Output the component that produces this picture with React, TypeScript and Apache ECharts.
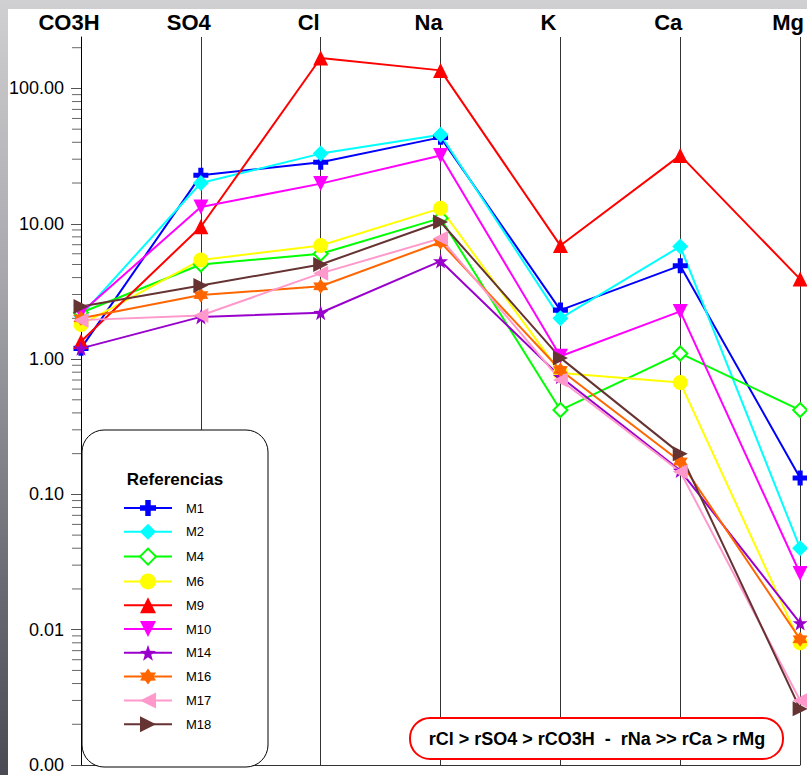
import React, { useEffect, useRef } from "react";
import * as echarts from "echarts";

const categories = ["CO3H", "SO4", "Cl", "Na", "K", "Ca", "Mg"];
const M1 = [1.2, 22.8, 28.5, 43.5, 2.3, 4.9, 0.132];
const M2 = [2.1, 20.0, 33.0, 45.5, 2.0, 6.8, 0.04];
const M4 = [2.2, 5.0, 6.0, 11.0, 0.42, 1.1, 0.42];
const M6 = [1.8, 5.4, 6.9, 13.0, 0.79, 0.67, 0.008];
const M9 = [1.35, 9.5, 168, 136, 6.9, 32, 3.9];
const M10 = [2.2, 13.3, 19.8, 32, 1.05, 2.25, 0.026];
const M14 = [1.2, 2.05, 2.2, 5.3, 0.74, 0.15, 0.0112];
const M16 = [2.0, 2.97, 3.45, 7.3, 0.83, 0.175, 0.0085];
const M17 = [1.94, 2.1, 4.3, 7.8, 0.7, 0.147, 0.003];
const M18 = [2.45, 3.5, 5.0, 10.3, 1.02, 0.2, 0.0026];

const legendTitle = "Referencias";
const annotation = "rCl > rSO4 > rCO3H  -  rNa >> rCa > rMg";
const yMin = 0.001;
const yMax = 240;

const PLUS = "path://M3.3,0H6.7V3.3H10V6.7H6.7V10H3.3V6.7H0V3.3H3.3Z";
const DOWN = "path://M0,0L10,0L5,10Z";
const LEFT = "path://M0,5L10,0L10,10Z";
const RIGHT = "path://M0,0L10,5L0,10Z";
const STAR5 = "path://M5,0L6.18,3.38L9.76,3.45L6.9,5.62L7.94,9.05L5,7L2.06,9.05L3.1,5.62L0.24,3.45L3.82,3.38Z";
const STAR6 = "path://M5,0L6.5,2.4L9.33,2.5L8,5L9.33,7.5L6.5,7.6L5,10L3.5,7.6L0.67,7.5L2,5L0.67,2.5L3.5,2.4Z";

const seriesDefs = [
  { name: "M1", data: M1, color: "#0000ff", symbol: PLUS, size: 15 },
  { name: "M2", data: M2, color: "#00ffff", symbol: "diamond", size: 16 },
  { name: "M4", data: M4, color: "#00ff00", symbol: "emptyDiamond", size: 14 },
  { name: "M6", data: M6, color: "#ffff00", symbol: "circle", size: 15 },
  { name: "M9", data: M9, color: "#ff0000", symbol: "triangle", size: 15 },
  { name: "M10", data: M10, color: "#ff00ff", symbol: DOWN, size: 15 },
  { name: "M14", data: M14, color: "#9900cc", symbol: STAR5, size: 15 },
  { name: "M16", data: M16, color: "#ff6600", symbol: STAR6, size: 15 },
  { name: "M17", data: M17, color: "#ff99cc", symbol: LEFT, size: 15 },
  { name: "M18", data: M18, color: "#663333", symbol: RIGHT, size: 15 },
];

const FONT = "'Liberation Sans', Arial, sans-serif";

export default function App() {
  const ref = useRef<HTMLDivElement>(null);
  useEffect(() => {
    if (!ref.current) return;
    const chart = echarts.init(ref.current, undefined, { renderer: "svg" });
    const baseGraphics: any[] = [
      {
        id: "legendBox",
        type: "rect",
        z: 5,
        shape: { x: 82, y: 430, width: 186, height: 337, r: 22 },
        style: { fill: "#fff", stroke: "#000", lineWidth: 1 },
      },
      {
        id: "legendTitle",
        type: "text",
        z: 6,
        x: 175,
        y: 479,
        style: {
          text: legendTitle,
          fill: "#000",
          font: `bold 17px ${FONT}`,
          textAlign: "center",
          textVerticalAlign: "middle",
        },
      },
      {
        id: "annBox",
        type: "rect",
        z: 5,
        shape: { x: 410, y: 718, width: 373, height: 41, r: 20 },
        style: { fill: "#fff", stroke: "#ff0000", lineWidth: 2 },
      },
      {
        id: "annText",
        type: "text",
        z: 6,
        x: 597,
        y: 739,
        style: {
          text: annotation,
          fill: "#000",
          font: `bold 18px ${FONT}`,
          textAlign: "center",
          textVerticalAlign: "middle",
        },
      },
    ];
    const option: any = {
      animation: false,
      backgroundColor: "transparent",
      textStyle: { fontFamily: FONT },
      grid: { left: 81, right: 6, top: 37, bottom: 10, containLabel: false },
      xAxis: [
        {
          type: "category",
          data: categories,
          boundaryGap: false,
          position: "top",
          axisLine: { show: false },
          axisTick: { show: false },
          axisLabel: {
            show: true,
            margin: 4,
            fontSize: 22,
            fontWeight: "bold",
            color: "#000",
            fontFamily: FONT,
            padding: [0, 24, 0, 0],
          },
          splitLine: { show: true, lineStyle: { color: "#333", width: 1 } },
        },
        {
          type: "category",
          data: categories,
          boundaryGap: false,
          position: "bottom",
          axisLine: { show: true, lineStyle: { color: "#333", width: 1 } },
          axisTick: { show: false },
          axisLabel: { show: false },
          splitLine: { show: false },
        },
      ],
      yAxis: {
        type: "log",
        logBase: 10,
        min: yMin,
        max: yMax,
        axisLine: { show: true, lineStyle: { color: "#000", width: 1 } },
        axisTick: { show: true, length: 10, lineStyle: { color: "#555" } },
        minorTick: { show: false },
        splitLine: { show: false },
        axisLabel: {
          margin: 17,
          fontSize: 18,
          color: "#000",
          fontFamily: FONT,
          showMaxLabel: false,
          formatter: (v: number) => (v > 150 ? "" : Number(v).toFixed(2)),
        },
      },
      legend: {
        orient: "vertical",
        left: 123,
        top: 500,
        z: 10,
        padding: 0,
        itemWidth: 48,
        itemHeight: 20,
        itemGap: 7.8,
        data: seriesDefs.map((s) => s.name),
        textStyle: { fontSize: 13, color: "#000", fontFamily: FONT, padding: [0, 0, 0, 9] },
      },
      series: seriesDefs.map((s) => ({
        name: s.name,
        type: "line",
        xAxisIndex: 0,
        data: s.data,
        symbol: s.symbol,
        symbolSize: s.size,
        showAllSymbol: true,
        lineStyle: { color: s.color, width: 2 },
        itemStyle:
          s.symbol === "emptyDiamond"
            ? { color: s.color, borderColor: s.color, borderWidth: 1.5 }
            : { color: s.color },
        emphasis: { disabled: true },
      })),
      graphic: baseGraphics,
    };
    chart.setOption(option);

    const minor: any[] = [];
    for (let k = -3; k <= 2; k++) {
      for (let d = 2; d <= 9; d++) {
        const v = d * Math.pow(10, k);
        if (v >= yMax) continue;
        const py = chart.convertToPixel({ yAxisIndex: 0 }, v) as unknown as number;
        if (typeof py !== "number" || isNaN(py)) continue;
        minor.push({
          id: `mt_${k}_${d}`,
          type: "line",
          z: 1,
          shape: { x1: 72, y1: py, x2: 81, y2: py },
          style: { stroke: "#666", lineWidth: 1 },
        });
      }
    }
    chart.setOption({ ...option, graphic: [...baseGraphics, ...minor] }, true);
    return () => chart.dispose();
  }, []);

  return (
    <div
      style={{
        position: "absolute",
        left: 0,
        top: 0,
        width: 807,
        height: 775,
        background: "linear-gradient(180deg, #d0d0d2 0%, #a8a8ae 35%, #6a6a74 75%, #4a4a55 100%)",
        overflow: "hidden",
      }}
    >
      <div
        style={{
          position: "absolute",
          left: 8,
          top: 9,
          width: 799,
          height: 766,
          background: "#fff",
        }}
      />
      <div ref={ref} style={{ position: "absolute", left: 0, top: 0, width: 807, height: 775 }} />
    </div>
  );
}
